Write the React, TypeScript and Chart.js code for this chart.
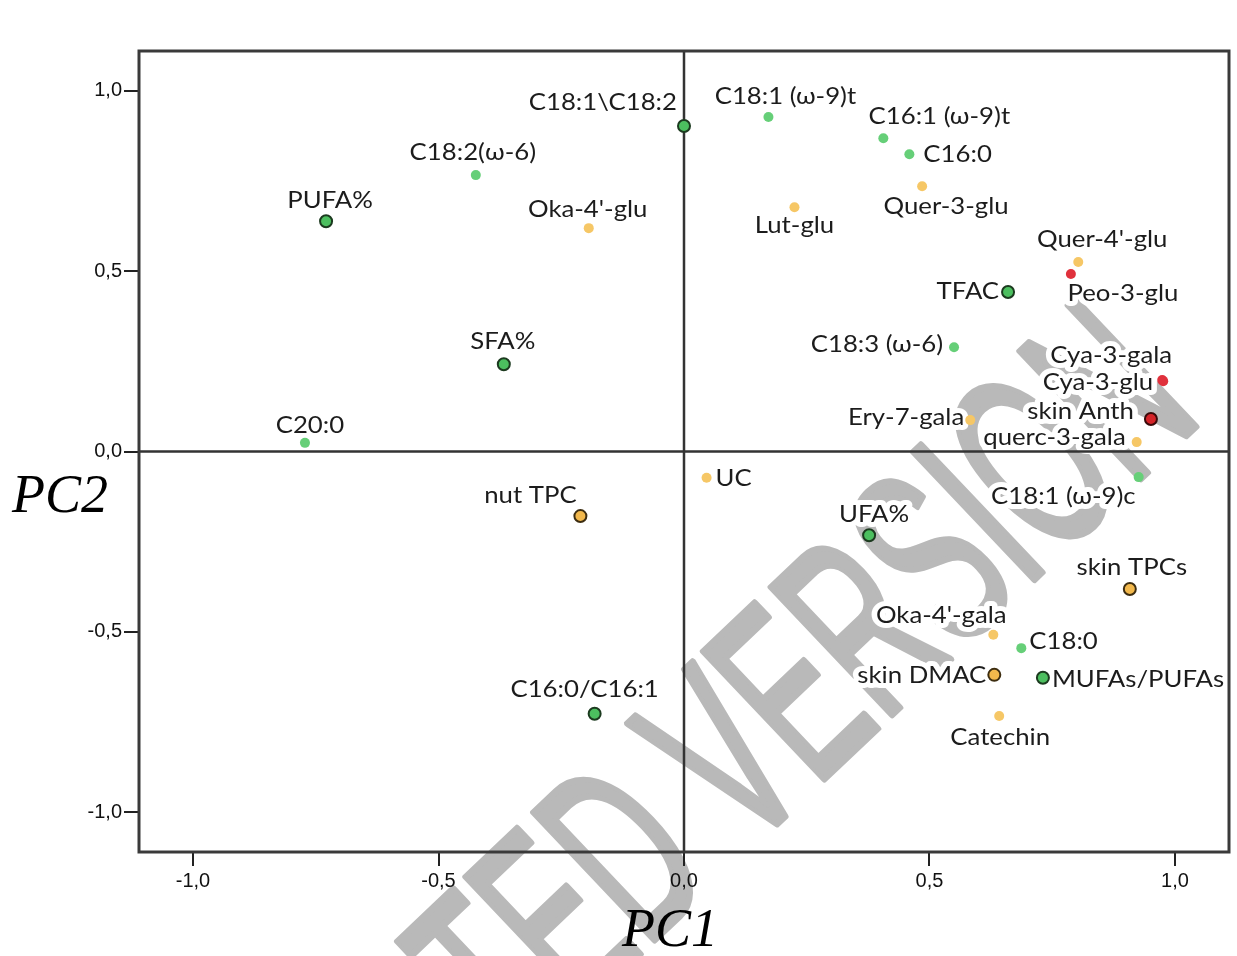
import React, { useEffect, useRef } from 'react';
import { Chart, registerables } from 'chart.js';

Chart.register(...registerables);

// ---- axis setup ----
const X_TICKS = [-1, -0.5, 0, 0.5, 1];
const Y_TICKS = [-1, -0.5, 0, 0.5, 1];
const AXIS_MIN = -1.11;
const AXIS_MAX = 1.11;
const X_TITLE = 'PC1';
const Y_TITLE = 'PC2';
const WATERMARK = 'ACCEPTED VERSION';

// ---- data: large green (fatty-acid indices) ----
const LG_GREEN_LABELS = ['C18:1\\C18:2', 'PUFA%', 'TFAC', 'SFA%', 'UFA%', 'MUFAs/PUFAs', 'C16:0/C16:1'];
const LG_GREEN_PC1 = [0.0, -0.729, 0.66, -0.367, 0.377, 0.731, -0.182];
const LG_GREEN_PC2 = [0.902, 0.638, 0.442, 0.242, -0.232, -0.627, -0.727];

// ---- small green (fatty acids) ----
const SM_GREEN_LABELS = ['C18:1 (ω-9)t', 'C16:1 (ω-9)t', 'C16:0', 'C18:2(ω-6)', 'C18:3 (ω-6)', 'C20:0', 'C18:1 (ω-9)c', 'C18:0'];
const SM_GREEN_PC1 = [0.172, 0.406, 0.459, -0.424, 0.55, -0.772, 0.926, 0.687];
const SM_GREEN_PC2 = [0.927, 0.868, 0.824, 0.766, 0.289, 0.024, -0.071, -0.545];

// ---- small yellow (phenolics) ----
const SM_YELLOW_LABELS = ['Quer-3-glu', 'Lut-glu', "Oka-4'-glu", "Quer-4'-glu", 'Ery-7-gala', 'querc-3-gala', 'UC', "Oka-4'-gala", 'Catechin'];
const SM_YELLOW_PC1 = [0.485, 0.225, -0.194, 0.803, 0.583, 0.922, 0.046, 0.63, 0.642];
const SM_YELLOW_PC2 = [0.735, 0.677, 0.619, 0.525, 0.087, 0.026, -0.073, -0.508, -0.733];

// ---- large orange (totals) ----
const LG_ORANGE_LABELS = ['nut TPC', 'skin TPCs', 'skin DMAC'];
const LG_ORANGE_PC1 = [-0.211, 0.908, 0.632];
const LG_ORANGE_PC2 = [-0.179, -0.381, -0.619];

// ---- small red (anthocyanins) ----
const SM_RED_LABELS = ['Peo-3-glu', 'Cya-3-gala', 'Cya-3-glu'];
const SM_RED_PC1 = [0.788, 0.974, 0.976];
const SM_RED_PC2 = [0.492, 0.198, 0.195];

// ---- large red ----
const LG_RED_LABELS = ['skin Anth'];
const LG_RED_PC1 = [0.951];
const LG_RED_PC2 = [0.09];

// ---- label placement relative to each point (px offsets, alignment) ----
const LABEL_PLACEMENT: Record<string, [number, number, CanvasTextAlign]> = {
  'C18:1\\C18:2': [-7, -23, 'right'],
  'C18:1 (ω-9)t': [17, -20, 'center'],
  'C16:1 (ω-9)t': [56, -22, 'center'],
  'C16:0': [14, 0, 'left'],
  'Quer-3-glu': [24, 20, 'center'],
  'Lut-glu': [0, 18, 'center'],
  'C18:2(ω-6)': [-3, -23, 'center'],
  'PUFA%': [4, -21, 'center'],
  "Oka-4'-glu": [-1, -19, 'center'],
  "Quer-4'-glu": [24, -22, 'center'],
  'Peo-3-glu': [52, 20, 'center'],
  'TFAC': [-9, 0, 'right'],
  'C18:3 (ω-6)': [-11, -3, 'right'],
  'SFA%': [-1, -23, 'center'],
  'Cya-3-gala': [-51, -24, 'center'],
  'Cya-3-glu': [-10, 1, 'right'],
  'skin Anth': [-17, -7, 'right'],
  'Ery-7-gala': [-6, -3, 'right'],
  'querc-3-gala': [-11, -5, 'right'],
  'C20:0': [5, -17, 'center'],
  'UC': [9, 1, 'left'],
  'C18:1 (ω-9)c': [-3, 19, 'right'],
  'nut TPC': [-50, -21, 'center'],
  'UFA%': [5, -21, 'center'],
  'skin TPCs': [2, -21, 'center'],
  "Oka-4'-gala": [-52, -19, 'center'],
  'C18:0': [8, -7, 'left'],
  'skin DMAC': [-8, 1, 'right'],
  'MUFAs/PUFAs': [9, 2, 'left'],
  'Catechin': [1, 22, 'center'],
  'C16:0/C16:1': [-10, -24, 'center'],
};

const LABEL_FONT = '23px "Lato", "Noto Sans", sans-serif';
const LABEL_STRETCH = 1.12;
const fmt = (v: number) => (Math.abs(v) < 1e-9 ? 0 : v).toFixed(1).replace('.', ',');

function makeSet(labels: string[], xs: number[], ys: number[], r: number, fill: string, border: string, bw: number) {
  return {
    label: labels.join(' | '),
    labelsList: labels,
    data: xs.map((x, i) => ({ x, y: ys[i] })),
    pointRadius: r,
    pointHoverRadius: r,
    pointBackgroundColor: fill,
    pointBorderColor: border,
    pointBorderWidth: bw,
    showLine: false,
  };
}

const decorPlugin = {
  id: 'decor',
  beforeDraw(chart: any) {
    const { ctx, width, height } = chart;
    ctx.save();
    ctx.fillStyle = '#ffffff';
    ctx.fillRect(0, 0, width, height);
    // watermark
    ctx.font = '255px "Liberation Sans", Arial, sans-serif';
    ctx.fillStyle = '#b9b9b9';
    ctx.strokeStyle = '#b9b9b9';
    ctx.lineWidth = 7;
    ctx.lineJoin = 'round';
    ctx.textBaseline = 'alphabetic';
    ctx.textAlign = 'left';
    ctx.translate(781, 820);
    ctx.rotate((-43.5 * Math.PI) / 180);
    ctx.scale(0.55, 1);
    const pre = ctx.measureText('ACCEPTED ').width;
    const wV = ctx.measureText('V').width;
    ctx.fillText(WATERMARK, -pre - wV / 2, 0);
    ctx.strokeText(WATERMARK, -pre - wV / 2, 0);
    ctx.restore();
  },
  beforeDatasetsDraw(chart: any) {
    const { ctx, chartArea } = chart;
    const xs = chart.scales.x;
    const ys = chart.scales.y;
    const items: { text: string; x: number; y: number; align: CanvasTextAlign }[] = [];
    chart.data.datasets.forEach((ds: any, di: number) => {
      const meta = chart.getDatasetMeta(di);
      meta.data.forEach((pt: any, j: number) => {
        const text = ds.labelsList[j];
        const p = LABEL_PLACEMENT[text] || [8, 0, 'left'];
        items.push({ text, x: pt.x + p[0], y: pt.y + p[1], align: p[2] });
      });
    });
    const drawText = (it: any, stroke: boolean) => {
      ctx.save();
      ctx.translate(it.x, it.y);
      ctx.scale(LABEL_STRETCH, 1);
      ctx.textAlign = it.align;
      if (stroke) ctx.strokeText(it.text, 0, 0);
      else ctx.fillText(it.text, 0, 0);
      ctx.restore();
    };
    ctx.save();
    ctx.font = LABEL_FONT;
    ctx.textBaseline = 'middle';
    ctx.lineJoin = 'round';
    // halos
    ctx.strokeStyle = '#ffffff';
    ctx.lineWidth = 10;
    items.forEach((it) => drawText(it, true));
    // zero lines
    ctx.strokeStyle = '#333333';
    ctx.lineWidth = 2.5;
    const x0 = xs.getPixelForValue(0);
    const y0 = ys.getPixelForValue(0);
    ctx.beginPath();
    ctx.moveTo(x0, chartArea.top);
    ctx.lineTo(x0, chartArea.bottom);
    ctx.moveTo(chartArea.left, y0);
    ctx.lineTo(chartArea.right, y0);
    ctx.stroke();
    // texts
    ctx.fillStyle = '#1c1c1c';
    items.forEach((it) => drawText(it, false));
    ctx.restore();
  },
  afterDraw(chart: any) {
    const { ctx, chartArea } = chart;
    ctx.save();
    ctx.strokeStyle = '#3a3a3a';
    ctx.lineWidth = 3;
    ctx.strokeRect(chartArea.left, chartArea.top, chartArea.right - chartArea.left, chartArea.bottom - chartArea.top);
    ctx.fillStyle = '#000000';
    ctx.font = 'italic 54px "Liberation Serif", "Times New Roman", serif';
    ctx.textAlign = 'left';
    ctx.textBaseline = 'alphabetic';
    ctx.fillText(Y_TITLE, 12, 512);
    ctx.fillText(X_TITLE, 622, 946);
    ctx.restore();
  },
};

export default function App() {
  const ref = useRef<HTMLCanvasElement | null>(null);
  useEffect(() => {
    document.body.style.margin = '0';
    const canvas = ref.current;
    if (!canvas) return;
    const tickFont = { family: '"Liberation Sans", Arial, sans-serif', size: 20 };
    const chart = new Chart(canvas, {
      type: 'scatter',
      data: {
        datasets: [
          makeSet(SM_GREEN_LABELS, SM_GREEN_PC1, SM_GREEN_PC2, 5, '#66cf78', '#66cf78', 0),
          makeSet(SM_YELLOW_LABELS, SM_YELLOW_PC1, SM_YELLOW_PC2, 5, '#f6c766', '#f6c766', 0),
          makeSet(SM_RED_LABELS, SM_RED_PC1, SM_RED_PC2, 5, '#e0313c', '#e0313c', 0),
          makeSet(LG_GREEN_LABELS, LG_GREEN_PC1, LG_GREEN_PC2, 6, '#4cbf5f', '#1c3a1f', 2),
          makeSet(LG_ORANGE_LABELS, LG_ORANGE_PC1, LG_ORANGE_PC2, 6, '#f2b84c', '#3d2d10', 2),
          makeSet(LG_RED_LABELS, LG_RED_PC1, LG_RED_PC2, 6, '#d42328', '#3a0a0a', 2),
        ] as any,
      },
      options: {
        animation: false,
        responsive: false,
        devicePixelRatio: 1,
        events: [],
        layout: { padding: { top: 51, right: 8, left: 0, bottom: 0 } },
        plugins: { legend: { display: false }, tooltip: { enabled: false }, title: { display: false } },
        scales: {
          x: {
            type: 'linear',
            min: AXIS_MIN,
            max: AXIS_MAX,
            afterBuildTicks: (s: any) => {
              s.ticks = X_TICKS.map((v) => ({ value: v }));
            },
            afterFit: (s: any) => {
              s.height = 104;
            },
            ticks: { callback: (v: any) => fmt(Number(v)), font: tickFont, color: '#111', padding: 3, maxRotation: 0, autoSkip: false },
            grid: { drawOnChartArea: false, drawTicks: true, tickLength: 14, color: '#222', lineWidth: 2 },
            border: { display: false },
          },
          y: {
            type: 'linear',
            min: AXIS_MIN,
            max: AXIS_MAX,
            afterBuildTicks: (s: any) => {
              s.ticks = Y_TICKS.map((v) => ({ value: v }));
            },
            afterFit: (s: any) => {
              s.width = 139;
            },
            ticks: { callback: (v: any) => fmt(Number(v)), font: tickFont, color: '#111', padding: 2, autoSkip: false },
            grid: { drawOnChartArea: false, drawTicks: true, tickLength: 15, color: '#222', lineWidth: 2 },
            border: { display: false },
          },
        },
      },
      plugins: [decorPlugin],
    } as any);
    return () => chart.destroy();
  }, []);
  return (
    <div style={{ width: 1237, height: 956, position: 'relative' }}>
      <canvas ref={ref} width={1237} height={956} style={{ display: 'block', width: 1237, height: 956 }} />
    </div>
  );
}
